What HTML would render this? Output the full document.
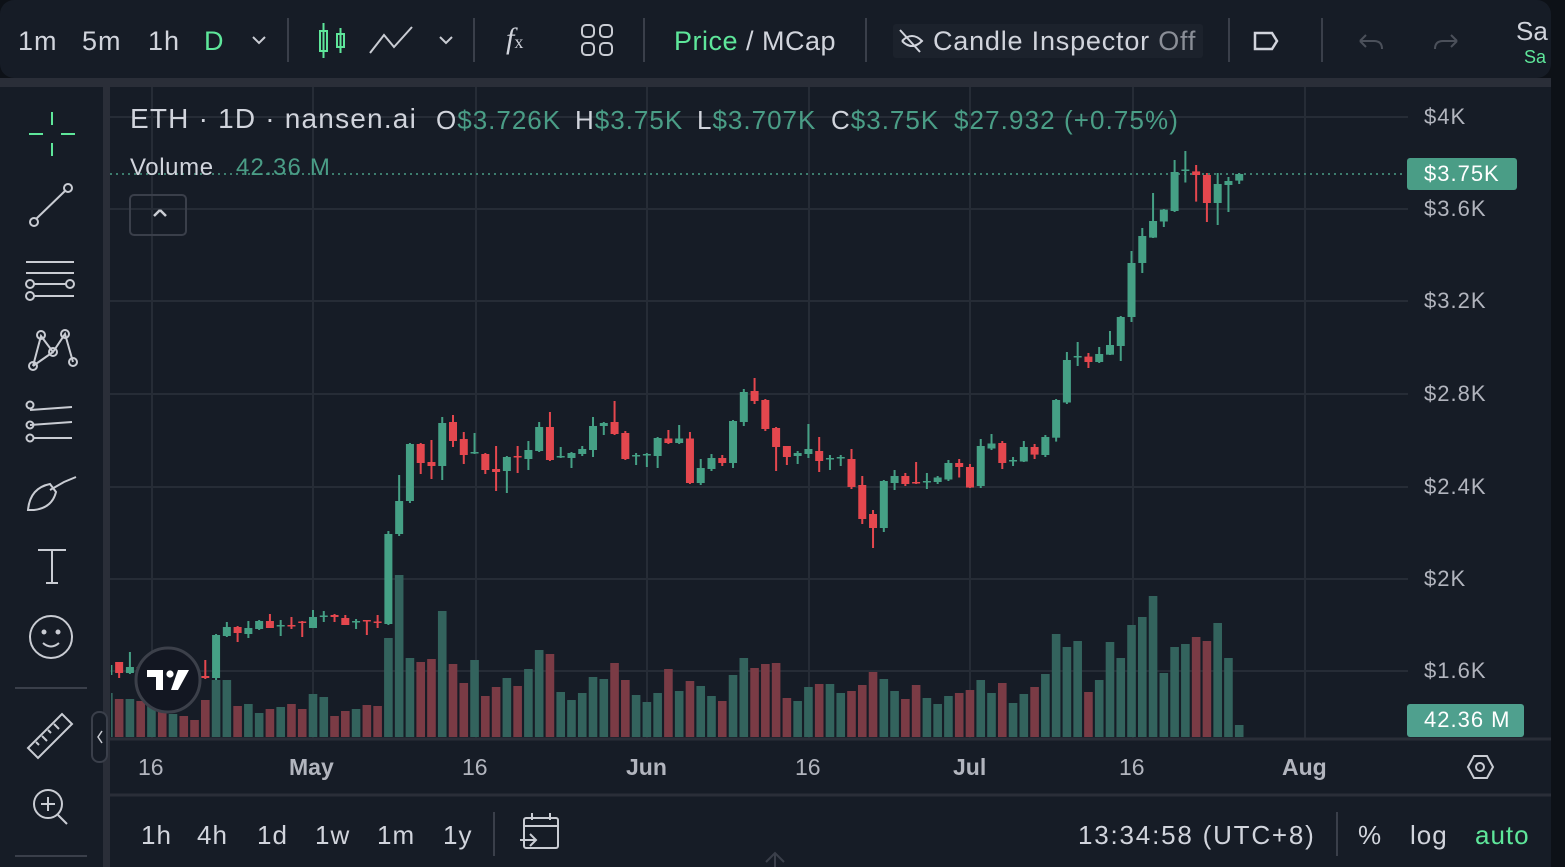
<!DOCTYPE html>
<html><head><meta charset="utf-8"><style>
*{margin:0;padding:0;box-sizing:border-box}
body{width:1565px;height:867px;background:#0d1117;overflow:hidden;position:relative;font-family:"Liberation Sans","DejaVu Sans",sans-serif;color:#d1d4dc}
.t{position:absolute;white-space:nowrap;line-height:1}
.p{letter-spacing:1px}
.g{color:#4a9d86}
svg{position:absolute;left:0;top:0}
</style></head><body>
<svg width="1565" height="867" id="s" xmlns="http://www.w3.org/2000/svg">
<rect x="0" y="0" width="1551" height="78" rx="14" fill="#161c26"/>
<rect x="0" y="78" width="1551" height="9" fill="#2a2e38"/>
<rect x="0" y="87" width="103" height="780" fill="#161c26"/>
<rect x="103" y="87" width="7" height="780" fill="#2a2e38"/>
<rect x="110" y="87" width="1441" height="780" fill="#161c26"/>
<rect x="1551" y="0" width="14" height="867" fill="#0d1117"/>
<g stroke="#262c36" stroke-width="2">
<line x1="152" y1="87" x2="152" y2="738"/><line x1="313" y1="87" x2="313" y2="738"/>
<line x1="476" y1="87" x2="476" y2="738"/><line x1="647" y1="87" x2="647" y2="738"/>
<line x1="809" y1="87" x2="809" y2="738"/><line x1="970" y1="87" x2="970" y2="738"/>
<line x1="1133" y1="87" x2="1133" y2="738"/><line x1="1305" y1="87" x2="1305" y2="738"/>
<line x1="110" y1="117" x2="1408" y2="117"/><line x1="110" y1="209" x2="1408" y2="209"/>
<line x1="110" y1="301" x2="1408" y2="301"/><line x1="110" y1="394" x2="1408" y2="394"/>
<line x1="110" y1="487" x2="1408" y2="487"/><line x1="110" y1="579" x2="1408" y2="579"/>
<line x1="110" y1="671" x2="1408" y2="671"/>
</g>
<line x1="110" y1="739" x2="1551" y2="739" stroke="#2a2e38" stroke-width="3"/>
<line x1="110" y1="795" x2="1551" y2="795" stroke="#2a2e38" stroke-width="3"/>
<line x1="110" y1="174" x2="1405" y2="174" stroke="#4a9d86" stroke-width="1.5" stroke-dasharray="2,4"/>
<g id="vol"></g><g id="cnd"></g>
<circle cx="168" cy="680" r="32" fill="#131722" stroke="#3c404a" stroke-width="3"/>
<path d="M147 670h16v20h-7v-13h-9z" fill="#fff"/><circle cx="170" cy="674" r="3.6" fill="#fff"/><path d="M178 670h11l-11 20h-7z" fill="#fff"/>
<rect x="1407" y="158" width="110" height="32" rx="3" fill="#4a9d86"/>
<rect x="1407" y="704" width="117" height="33" rx="3" fill="#4fa08e"/>
<g stroke="#3a3f4a" stroke-width="2">
<line x1="288" y1="18" x2="288" y2="62"/><line x1="474" y1="18" x2="474" y2="62"/>
<line x1="644" y1="18" x2="644" y2="62"/><line x1="866" y1="18" x2="866" y2="62"/>
<line x1="1229" y1="18" x2="1229" y2="62"/><line x1="1322" y1="18" x2="1322" y2="62"/>
<line x1="494" y1="812" x2="494" y2="856"/><line x1="1337" y1="812" x2="1337" y2="856"/>
<line x1="15" y1="688" x2="87" y2="688"/><line x1="15" y1="856" x2="87" y2="856"/>
</g>
<rect x="893" y="24" width="310" height="34" rx="3" fill="#1c222c"/>
<g fill="none" stroke-width="2">
<path d="M253 37l6 6 6-6" stroke="#c9ccd3"/><path d="M440 37l6 6 6-6" stroke="#c9ccd3"/>
<g stroke="#5ee69a"><rect x="320" y="31" width="7" height="20"/><line x1="323.5" y1="23" x2="323.5" y2="58"/><rect x="337" y="34" width="7" height="13"/><line x1="340.5" y1="28" x2="340.5" y2="53"/></g>
<path d="M370 53l14-18 10 12 18-20" stroke="#c9ccd3"/>
<g stroke="#c9ccd3"><rect x="582" y="25" width="12" height="12" rx="4"/><rect x="600" y="25" width="12" height="12" rx="4"/><rect x="582" y="43" width="12" height="12" rx="4"/><rect x="600" y="43" width="12" height="12" rx="4"/></g>
<path d="M1255 33h17l5 8-5 8h-17z" stroke="#d1d4dc" stroke-width="2.5"/>
<path d="M1360 41h14q8 0 8 8M1360 41l6-6M1360 41l6 6" stroke="#4b505a"/>
<path d="M1457 41h-14q-8 0-8 8M1457 41l-6-6M1457 41l-6 6" stroke="#4b505a"/>
<path d="M902 41q10-10 20 0q-10 10-20 0" stroke="#d1d4dc"/><line x1="900" y1="30" x2="920" y2="52" stroke="#d1d4dc"/>
</g>
<g fill="none" stroke="#c9ccd3" stroke-width="2">
<g stroke="#5ee69a"><line x1="52" y1="112" x2="52" y2="125"/><line x1="52" y1="143" x2="52" y2="156"/><line x1="29" y1="134" x2="43" y2="134"/><line x1="61" y1="134" x2="75" y2="134"/></g>
<line x1="36" y1="219" x2="66" y2="190"/><circle cx="34" cy="222" r="4"/><circle cx="68" cy="188" r="4"/>
<line x1="26" y1="262" x2="74" y2="262"/><line x1="26" y1="273" x2="74" y2="273"/><line x1="34" y1="284" x2="66" y2="284"/><line x1="34" y1="296" x2="74" y2="296"/><circle cx="30" cy="284" r="4"/><circle cx="70" cy="284" r="4"/><circle cx="30" cy="296" r="4"/>
<path d="M33 366l8-30 12 16 12-18 8 28M33 366l20-14"/><circle cx="33" cy="366" r="4"/><circle cx="41" cy="335" r="4"/><circle cx="53" cy="352" r="4"/><circle cx="65" cy="334" r="4"/><circle cx="73" cy="362" r="4"/>
<line x1="30" y1="410" x2="72" y2="407"/><line x1="30" y1="425" x2="72" y2="422"/><line x1="34" y1="438" x2="72" y2="438"/><circle cx="30" cy="405" r="3.5"/><circle cx="30" cy="425" r="3.5"/><circle cx="30" cy="438" r="3.5"/>
<path d="M28 510q2-22 22-26l6 8q-4 16-22 18zM50 490l14-8 12-5"/>
<path d="M38 550h28M52 550v33M46 583h12"/>
<circle cx="51" cy="637" r="21"/><circle cx="44" cy="632" r="1.5" fill="#c9ccd3"/><circle cx="58" cy="632" r="1.5" fill="#c9ccd3"/><path d="M43 643q8 7 16 0"/>
<path d="M28 748l34-34 10 10-34 34zM36 742l3 3M42 736l5 5M48 730l3 3M54 724l5 5"/>
<circle cx="48" cy="804" r="14"/><line x1="58" y1="815" x2="67" y2="824"/><line x1="48" y1="797" x2="48" y2="811"/><line x1="41" y1="804" x2="55" y2="804"/>
<path d="M1468 767l6-11h13l6 11-6 11h-13z"/><circle cx="1480" cy="767" r="4"/>
<rect x="524" y="818" width="34" height="30" rx="2"/><line x1="524" y1="826" x2="558" y2="826"/><line x1="532" y1="813" x2="532" y2="820"/><line x1="550" y1="813" x2="550" y2="820"/><path d="M520 840h16M530 834l6 6-6 6"/>
<path d="M160 210l-6 6M160 210l6 6" stroke-width="2.5"/>
<path d="M766 862l9-9 9 9M775 853v14" stroke="#3a3f4a"/>
</g>
<rect x="130" y="195" width="56" height="40" rx="4" fill="none" stroke="#3a3f4a" stroke-width="2"/>
<rect x="92" y="712" width="15" height="50" rx="7" fill="#161c26" stroke="#3a3f4a" stroke-width="2"/>
<path d="M102 731l-4 6 4 6" fill="none" stroke="#c9ccd3" stroke-width="1.5"/>
</svg>

<div class="t p" style="left:18px;top:28px;font-size:27px">1m</div>
<div class="t p" style="left:82px;top:28px;font-size:27px">5m</div>
<div class="t p" style="left:148px;top:28px;font-size:27px">1h</div>
<div class="t p" style="left:204px;top:28px;font-size:27px;color:#5ee69a">D</div>
<div class="t" style="left:506px;top:24px;font-size:30px;font-family:'Liberation Serif',serif;font-style:italic">f<span style="font-size:18px;font-style:normal">x</span></div>
<div class="t" style="left:674px;top:28px;font-size:27px;letter-spacing:0.5px"><span style="color:#5ee69a">Price</span> / MCap</div>
<div class="t" style="left:933px;top:28px;font-size:27px;letter-spacing:0.8px">Candle Inspector <span style="color:#8a8e97">Off</span></div>
<div class="t" style="left:1516px;top:18px;font-size:26px">Sa</div>
<div class="t" style="left:1524px;top:48px;font-size:18px;color:#5ee69a">Sa</div>

<div class="t" style="left:130px;top:105px;font-size:28px;letter-spacing:1.2px">ETH · 1D · nansen.ai</div>
<div class="t" style="left:436px;top:107px;font-size:26px;letter-spacing:1px">O<span class="g">$3.726K</span></div>
<div class="t" style="left:575px;top:107px;font-size:26px;letter-spacing:1px">H<span class="g">$3.75K</span></div>
<div class="t" style="left:697px;top:107px;font-size:26px;letter-spacing:1px">L<span class="g">$3.707K</span></div>
<div class="t" style="left:831px;top:107px;font-size:26px;letter-spacing:1px">C<span class="g">$3.75K</span></div>
<div class="t g" style="left:954px;top:107px;font-size:26px;letter-spacing:1.1px">$27.932 (+0.75%)</div>
<div class="t" style="left:130px;top:156px;font-size:24px;letter-spacing:0.6px">Volume</div>
<div class="t g" style="left:236px;top:156px;font-size:24px;letter-spacing:1.2px">42.36 M</div>

<div class="t p" style="left:1424px;top:106px;font-size:22px;color:#b2b5be">$4K</div>
<div class="t p" style="left:1424px;top:163px;font-size:22px;color:#fff">$3.75K</div>
<div class="t p" style="left:1424px;top:198px;font-size:22px;color:#b2b5be">$3.6K</div>
<div class="t p" style="left:1424px;top:290px;font-size:22px;color:#b2b5be">$3.2K</div>
<div class="t p" style="left:1424px;top:383px;font-size:22px;color:#b2b5be">$2.8K</div>
<div class="t p" style="left:1424px;top:476px;font-size:22px;color:#b2b5be">$2.4K</div>
<div class="t p" style="left:1424px;top:568px;font-size:22px;color:#b2b5be">$2K</div>
<div class="t p" style="left:1424px;top:660px;font-size:22px;color:#b2b5be">$1.6K</div>
<div class="t p" style="left:1424px;top:709px;font-size:22px;color:#fff">42.36 M</div>

<div class="t" style="left:138px;top:756px;font-size:23px;color:#b2b5be">16</div>
<div class="t" style="left:289px;top:756px;font-size:23px;color:#b2b5be;font-weight:bold">May</div>
<div class="t" style="left:462px;top:756px;font-size:23px;color:#b2b5be">16</div>
<div class="t" style="left:626px;top:756px;font-size:23px;color:#b2b5be;font-weight:bold">Jun</div>
<div class="t" style="left:795px;top:756px;font-size:23px;color:#b2b5be">16</div>
<div class="t" style="left:953px;top:756px;font-size:23px;color:#b2b5be;font-weight:bold">Jul</div>
<div class="t" style="left:1119px;top:756px;font-size:23px;color:#b2b5be">16</div>
<div class="t" style="left:1282px;top:756px;font-size:23px;color:#b2b5be;font-weight:bold">Aug</div>

<div class="t p" style="left:141px;top:822px;font-size:26px">1h</div>
<div class="t p" style="left:197px;top:822px;font-size:26px">4h</div>
<div class="t p" style="left:257px;top:822px;font-size:26px">1d</div>
<div class="t p" style="left:315px;top:822px;font-size:26px">1w</div>
<div class="t p" style="left:377px;top:822px;font-size:26px">1m</div>
<div class="t p" style="left:443px;top:822px;font-size:26px">1y</div>
<div class="t" style="left:1078px;top:822px;font-size:26px;letter-spacing:1.8px">13:34:58 (UTC+8)</div>
<div class="t" style="left:1358px;top:822px;font-size:26px">%</div>
<div class="t p" style="left:1410px;top:822px;font-size:26px">log</div>
<div class="t p" style="left:1475px;top:822px;font-size:26px;color:#5ee69a">auto</div>

<script>
var D=[
[-19,'g',675,665,661,680,693],[-18,'r',662,673,662,678,699],[-17,'g',673,667,652,674,699],[-16,'r',667,672,664,676,701],
[-15,'g',672,668,662,678,705],[-14,'r',668,675,664,680,710],[-13,'g',675,670,666,680,714],[-12,'r',670,676,667,682,716],
[-11,'r',672,678,668,684,720],[-10,'r',676,678,660,679,700],[-9,'g',678,635,634,680,680],[-8,'g',636,627,622,637,680],
[-7,'r',627,633,626,642,706],[-6,'g',634,628,621,638,704],[-5,'g',629,621,620,630,713],[-4,'r',621,628,614,628,709],
[-3,'g',626,625,620,636,707],[-2,'r',625,626.5,617,629,704],[-1,'r',621.5,623,621,637,709],[0,'g',628,617,610,628,694],
[1,'g',616.5,615.5,611,622,697],[2,'r',615,617,614,622,716],[3,'r',618,625,615,625,711],[4,'g',622.5,621,619,629,709],
[5,'r',620,621.5,620,635,705],[6,'r',621.5,623,615,628,706],[7,'g',624,534,531,625,638],[8,'g',534,501,475,536,575],
[9,'g',501,444,443,503,658],[10,'r',444,463,443,474,662],[11,'r',462,466,440,479,659],[12,'g',466,423,417,480,611],
[13,'r',422,441,415,447,664],[14,'r',439,455,432,464,683],[15,'g',453.5,452,433,454,660],[16,'r',454,470,453,474,696],
[17,'r',469,472,446,491,687],[18,'g',471,457,456,493,678],[19,'r',456,457.5,446,473,686],[20,'g',459,450,441,470,669],
[21,'g',451,427,422,452,650],[22,'r',427,460,412,461,654],[23,'g',457.5,456,447,458,692],[24,'g',458,453,452,468,700],
[25,'g',454,449,446,456,693],[26,'g',450,426,417,457,677],[27,'g',426,423,422,435,679],[28,'r',422,434,401,435,663],
[29,'r',433,459,431,460,680],[30,'g',456,455,453,465,695],[31,'g',455,454,453,467,702],[32,'g',456,438,437,468,693],
[33,'r',438.5,443,430,444,669],[34,'g',443,438.5,425,444,691],[35,'r',438.5,483,432,484,681],[36,'g',483,468,459,485,686],
[37,'g',469,458,454,471,696],[38,'r',458,463,455,466,701],[39,'g',463,421,420,468,675],[40,'g',422,392,389,426,658],
[41,'r',391,401,378,404,668],[42,'r',400,429,399,431,664],[43,'r',428,447,427,471,663],[44,'r',446,457,446,465,698],
[45,'g',456,453,451,464,701],[46,'g',454,449,424,458,687],[47,'r',451,461,437,472,684],[48,'g',459,458,455,470,684],
[49,'g',458,457,455,466,693],[50,'r',459,487,449,489,691],[51,'r',485,519,476,524,685],[52,'r',514,528,510,548,672],
[53,'g',528,481,480,532,679],[54,'g',483,476,470,490,691],[55,'r',476,484,473,486,699],[56,'r',482,483.5,462,484,685],
[57,'g',482,481,473,489,698],[58,'g',482,477.5,476,484,704],[59,'g',479.5,463,460,481,696],[60,'r',463,467,459,477.5,693],
[61,'r',467,487.5,464,488,690],[62,'g',486,446,439,488,680],[63,'g',448.5,443.5,434,450,693],[64,'r',443,463,441,469,683],
[65,'g',461.5,460,457,466,703],[66,'g',461.5,447,441,462,694],[67,'r',447,454.6,444,459,687],[68,'g',455,437,435,457,674],
[69,'g',437.7,400,399,441.6,634],[70,'g',402.5,360,352,404,647],[71,'g',357,356,342,366,641],[72,'r',356.6,362,353,368,692],
[73,'g',362,354,347,363,680],[74,'g',354.7,345,331,355,642],[75,'g',346,317,316,361,658],[76,'g',317,263,251,322,625],
[77,'g',263,236,228,273,617],[78,'g',237.6,221,193,238,596],[79,'g',221.5,209.6,209,227,673],[80,'g',211,172,160,212,647],
[81,'g',170.5,169.5,151,182.5,644],[82,'r',171.4,175,165,201.6,637],[83,'r',175,203,173,222,641],[84,'g',203,184,173,225,623],
[85,'g',185,181,177,212,658],[86,'g',180.6,174,173,184,725]];
var ns='http://www.w3.org/2000/svg',V=document.getElementById('vol'),C=document.getElementById('cnd');
function R(p,x,y,w,h,f){var r=document.createElementNS(ns,'rect');r.setAttribute('x',x);r.setAttribute('y',y);r.setAttribute('width',w);r.setAttribute('height',Math.max(h,1.5));r.setAttribute('fill',f);p.appendChild(r);}
D.forEach(function(d){var x=313+d[0]*10.77;var g=d[1]=='g';
var lx=Math.max(x-4.3,111),rx=x+4.3;if(rx>111)R(V,lx,d[6],rx-lx,737-d[6],g?'#33635d':'#7a3b45');
var col=g?'#45a085':'#e4474e';
var bl=Math.max(x-4,111),br=x+4;if(br<=111)return;
if(x-1>=111)R(C,x-1,d[4],2,d[5]-d[4],col);
var t=Math.min(d[2],d[3]),b=Math.max(d[2],d[3]);R(C,bl,t,br-bl,b-t,col);});
</script>
</body></html>
